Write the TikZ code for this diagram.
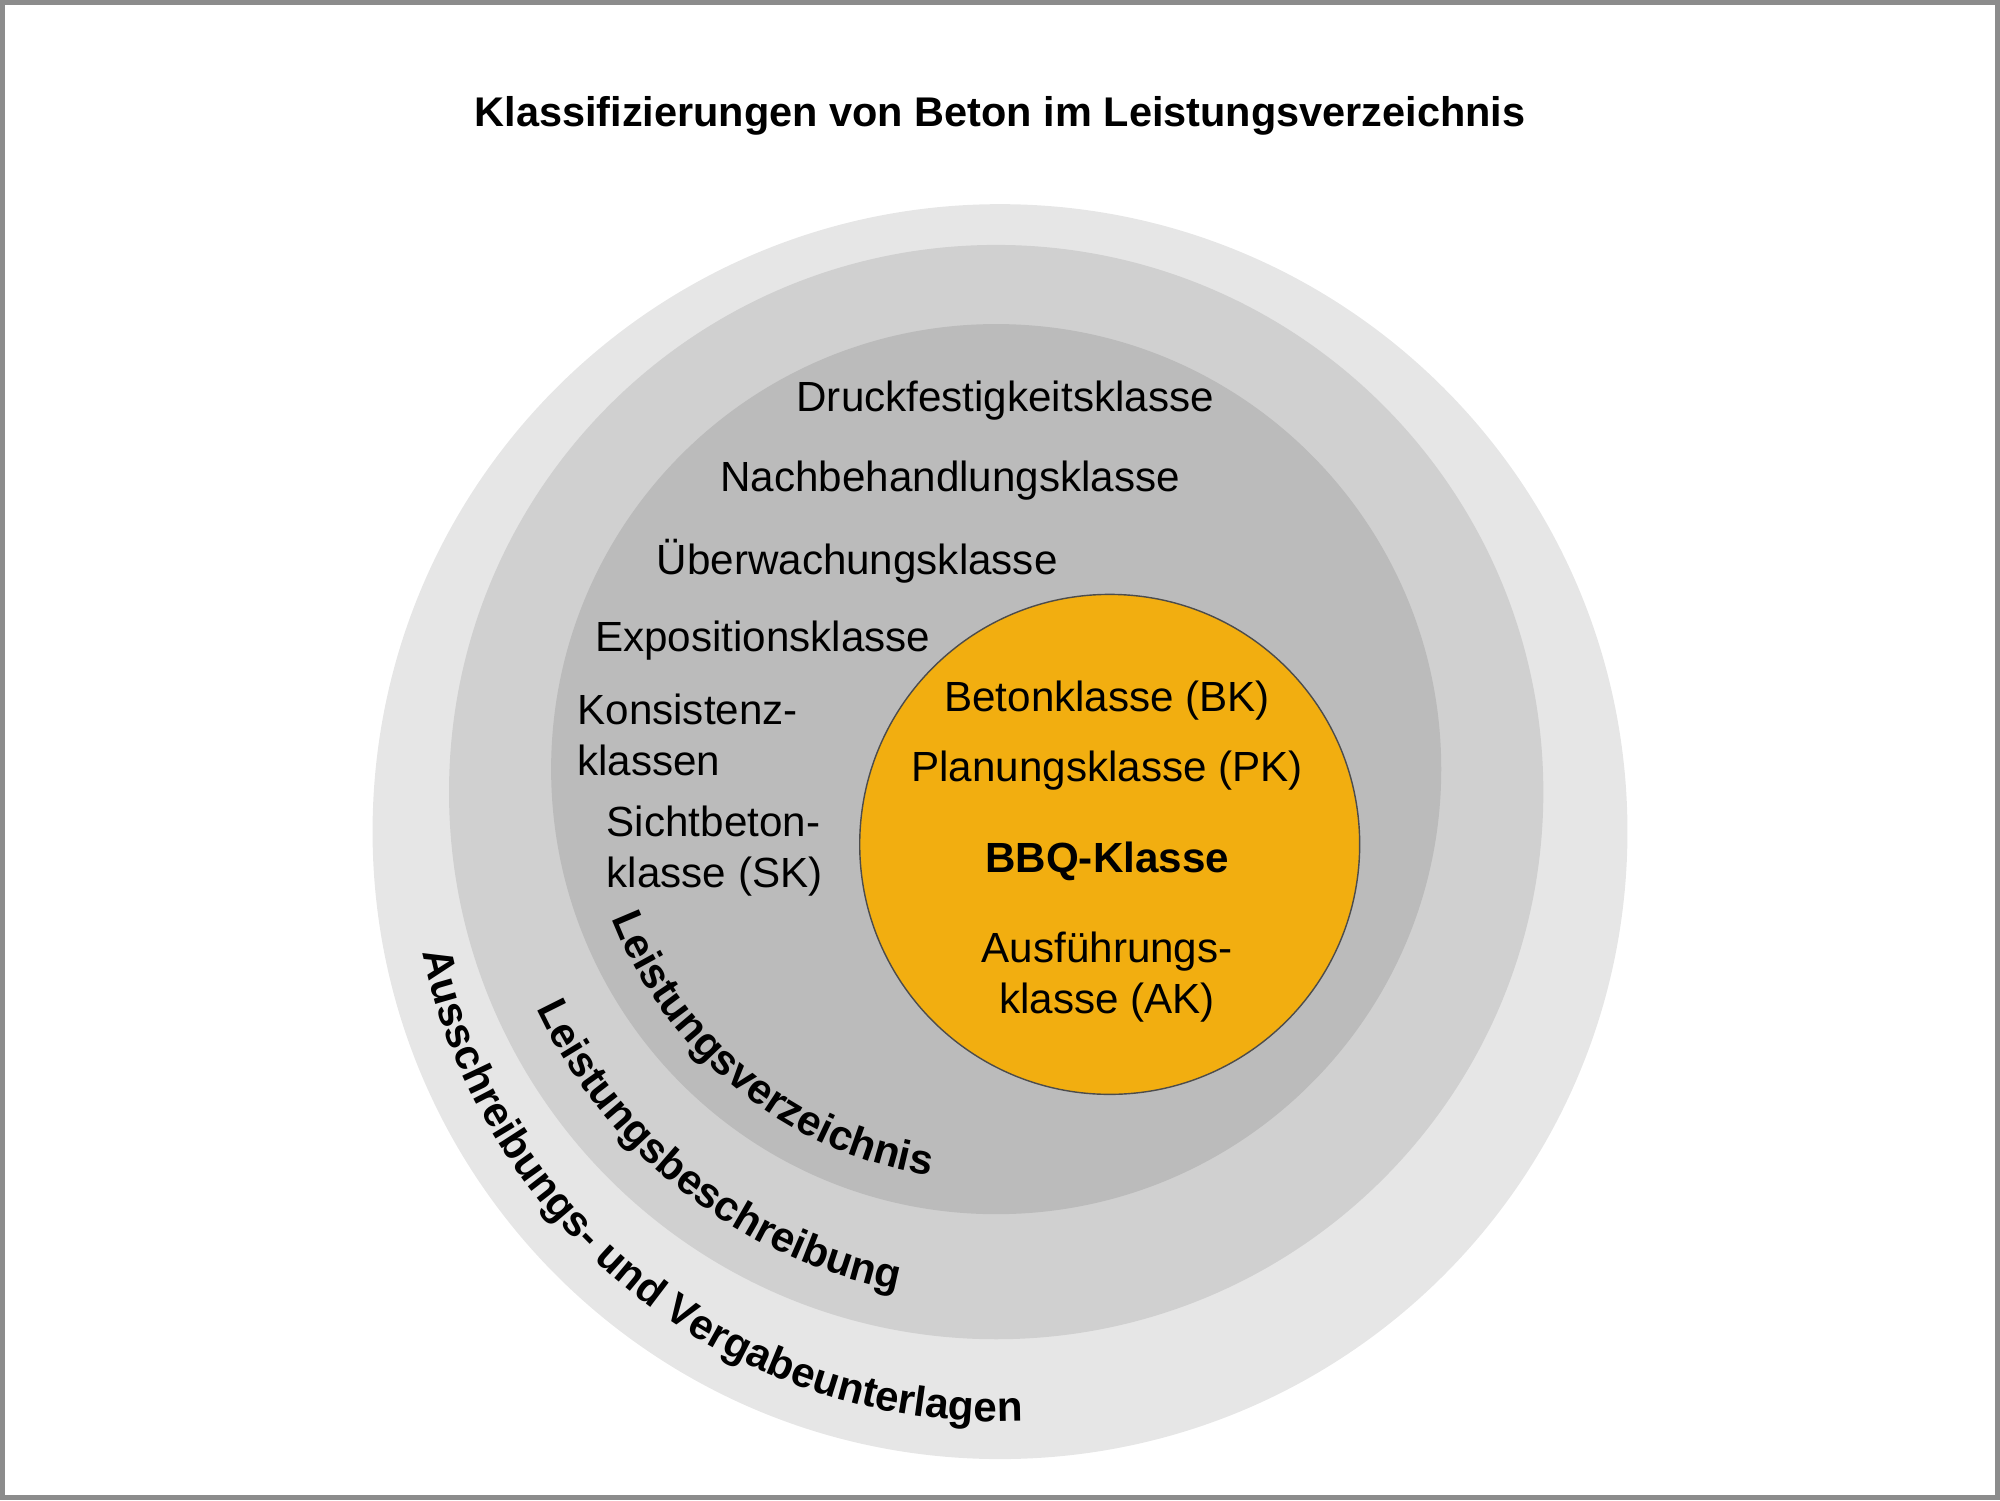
\documentclass[tikz,border=0pt]{standalone}
\usepackage{fontspec}
\setmainfont{Liberation Sans}
\usetikzlibrary{decorations.text}
\definecolor{ringA}{HTML}{E6E6E6}
\definecolor{ringB}{HTML}{D0D0D0}
\definecolor{ringC}{HTML}{BBBBBB}
\definecolor{bbq}{HTML}{F2AE10}
\tikzstyle{ring} = [circle, inner sep=0pt]
\tikzstyle{label} = [font=\fontsize{12}{14.5}\selectfont, align=left]
\tikzstyle{inlabel} = [font=\fontsize{12}{14.5}\selectfont, align=center]
\tikzstyle{arclabel} = [decorate, decoration={text along path, text align=center}]

\begin{document}
\begin{tikzpicture}[x=0.012755cm, y=0.012755cm]

    % Frame
    \useasboundingbox (0,0) rectangle (1568,1176);
    \draw [line width=1.2pt, color=black!45] (2,2) rectangle (1566,1174);

    % Title
    \node (title) [font=\fontsize{11.8}{14}\selectfont\bfseries] at (784,1085) {Klassifizierungen von Beton im Leistungsverzeichnis};

    % Rings
    \node (outer) [ring, fill=ringA, minimum size=12.55cm] at (784,524) {};
    \node (middle) [ring, fill=ringB, minimum size=10.944cm] at (781,555) {};
    \node (inner) [ring, fill=ringC, minimum size=8.902cm] at (781,573) {};
    \node (core) [ring, fill=bbq, draw=black!70, line width=0.4pt, minimum size=5.0cm] at (870,514) {};

    % Classes in the Leistungsverzeichnis
    \node (druck) [label] at (788,862) {Druckfestigkeitsklasse};
    \node (nach) [label] at (745,799) {Nachbehandlungsklasse};
    \node (ueber) [label] at (672,736) {Überwachungsklasse};
    \node (expo) [label] at (598,674) {Expositionsklasse};
    \node (konsi) [label, anchor=west] at (443,600) {Konsistenz-\\klassen};
    \node (sicht) [label, anchor=west] at (466,509) {Sichtbeton-\\klasse (SK)};

    % BBQ-Klasse
    \node (bk) [inlabel] at (868,627) {Betonklasse (BK)};
    \node (pk) [inlabel] at (868,572) {Planungsklasse (PK)};
    \node (bbq) [inlabel, font=\fontsize{12}{14.5}\selectfont\bfseries] at (868,501) {BBQ-Klasse};
    \node (ak) [inlabel] at (868,410) {Ausführungs-\\klasse (AK)};

    % Ring names
    \path [arclabel, decoration={text={|\fontsize{12}{14.5}\selectfont\bfseries|Leistungsverzeichnis}}]
        (inner.center) ++(200:4.12cm) arc[start angle=200, end angle=262, radius=4.12cm];
    \path [arclabel, decoration={text={|\fontsize{12}{14.5}\selectfont\bfseries|Leistungsbeschreibung}}]
        (middle.center) ++(203:5.08cm) arc[start angle=203, end angle=261, radius=5.08cm];
    \path [arclabel, decoration={text={|\fontsize{12}{14.5}\selectfont\bfseries|Ausschreibungs- und Vergabeunterlagen}}]
        (outer.center) ++(188:5.9cm) arc[start angle=188, end angle=276, radius=5.9cm];

\end{tikzpicture}
\end{document}
